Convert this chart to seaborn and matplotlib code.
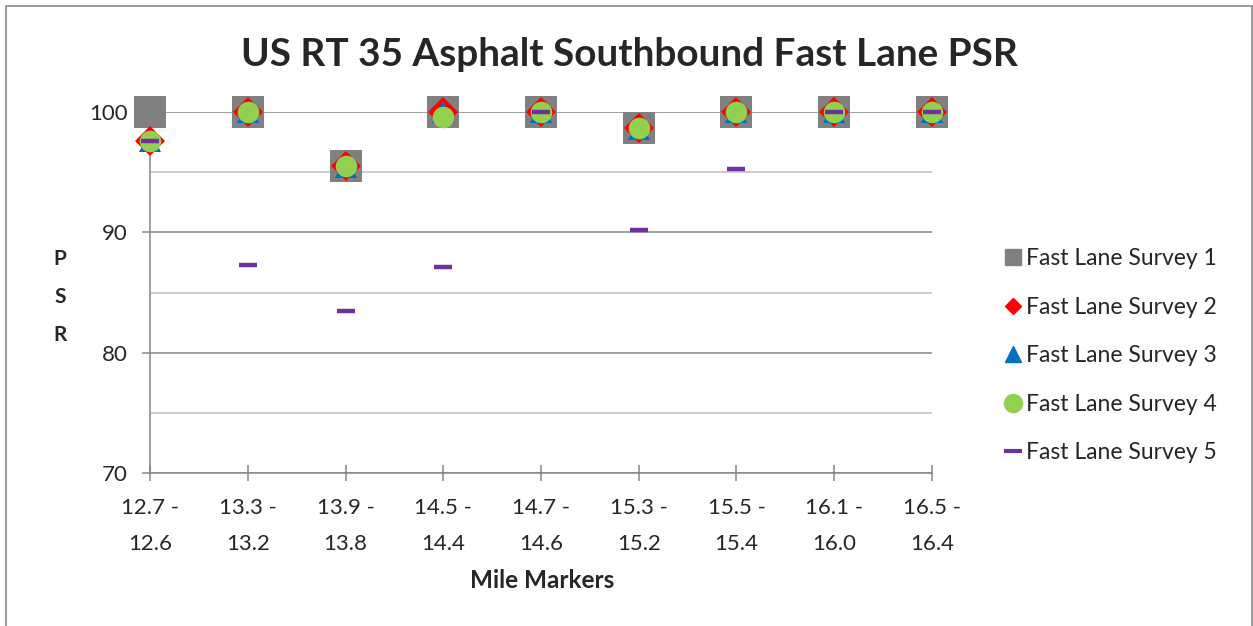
import numpy as np
import matplotlib
matplotlib.use('Agg')
import matplotlib.pyplot as plt
from matplotlib.lines import Line2D
from matplotlib.patches import Rectangle
import seaborn as sns

# Chart data
mile_markers = ['12.7 -\n12.6', '13.3 -\n13.2', '13.9 -\n13.8', '14.5 -\n14.4', '14.7 -\n14.6',
                '15.3 -\n15.2', '15.5 -\n15.4', '16.1 -\n16.0', '16.5 -\n16.4']
survey1 = [100, 100, 95.5, 100, 100, 98.7, 100, 100, 100]
survey2 = [97.6, 100, 95.5, 100, 100, 98.7, 100, 100, 100]
survey3 = [97.6, 100, 95.4, 100, 100, 98.6, 100, 100, 100]
survey4 = [97.6, 100, 95.5, 99.6, 100, 98.7, 100, 100, 100]
survey5 = [97.6, 87.3, 83.5, 87.1, 100, 90.2, 95.3, 100, 100]
series_names = ['Fast Lane Survey 1', 'Fast Lane Survey 2', 'Fast Lane Survey 3',
                'Fast Lane Survey 4', 'Fast Lane Survey 5']
y_ticks = [70, 80, 90, 100]

sns.set_style('white')
plt.rcParams['font.family'] = ['Lato', 'DejaVu Sans']

fig = plt.figure(figsize=(12.53, 6.26), dpi=100)
ax = fig.add_axes([150 / 1253, 1 - 473 / 626, (932 - 150) / 1253, (473 - 112) / 626])

x = np.arange(len(mile_markers))
# (values, marker, size, colour, edge width)
styles = [
    (survey1, 's', 23, '#808080', 0),
    (survey2, 'D', 14.8, '#FF0000', 0),
    (survey3, '^', 16.5, '#0070C0', 0),
    (survey4, 'o', 15.5, '#92D050', 0),
    (survey5, '_', 13, '#7030A0', 3.2),
]
for i, (vals, mk, ms, col, mew) in enumerate(styles):
    sns.lineplot(x=x, y=vals, ax=ax, marker=mk, markersize=ms, linestyle='',
                 color=col, markeredgecolor=col, markeredgewidth=mew,
                 clip_on=False, zorder=5 + i)

ax.set_xlim(0, 8)
ax.set_ylim(70, 100)
ax.set_xticks(x)
ax.set_xticklabels(mile_markers, fontsize=16, linespacing=2.0)
ax.set_yticks(y_ticks)
ax.set_yticks([75, 85, 95], minor=True)
ax.tick_params(axis='y', which='major', direction='out', length=6, width=1.1,
               color='#868686', labelsize=16, pad=10, left=True)
ax.tick_params(axis='y', which='minor', length=0)
ax.tick_params(axis='x', direction='inout', length=11.5, width=1.1,
               color='#868686', pad=12, bottom=True)
ax.yaxis.grid(True, which='major', color='#868686', linewidth=1.1)
ax.yaxis.grid(True, which='minor', color='#BFBFBF', linewidth=1.1)
ax.set_axisbelow(True)
for s in ['top', 'right']:
    ax.spines[s].set_visible(False)
for s in ['left', 'bottom']:
    ax.spines[s].set_color('#868686')
    ax.spines[s].set_linewidth(1.1)
ax.set_xlabel('')
ax.set_ylabel('')

fig.text(629 / 1253, 1 - 55 / 626, 'US RT 35 Asphalt Southbound Fast Lane PSR',
         ha='center', va='center', fontsize=27.9, fontweight='bold')
fig.text(542 / 1253, 1 - 580 / 626, 'Mile Markers', ha='center', va='center',
         fontsize=17.5, fontweight='bold')
fig.text(60 / 1253, 1 - 297 / 626, 'P\nS\nR', ha='center', va='center',
         fontsize=15, fontweight='bold', linespacing=2.1)

handles = [
    Line2D([], [], marker='s', markersize=11.3, linestyle='', color='#808080'),
    Line2D([], [], marker='D', markersize=8, linestyle='', color='#FF0000'),
    Line2D([], [], marker='^', markersize=11.5, linestyle='', color='#0070C0'),
    Line2D([], [], marker='o', markersize=13, linestyle='', color='#92D050'),
    Line2D([], [], marker='_', markersize=12.5, linestyle='', color='#7030A0',
           markeredgewidth=3),
]
fig.legend(handles, series_names, loc='center left', bbox_to_anchor=(994 / 1253, 1 - 356 / 626),
           frameon=False, fontsize=16.5, handlelength=0.9, handletextpad=0.1,
           labelspacing=1.2, borderaxespad=0)

fig.add_artist(Rectangle((6 / 1253, -0.05), (1252 - 6) / 1253, 1.05 - 6 / 626,
                         transform=fig.transFigure, fill=False, edgecolor='#898989',
                         linewidth=1.2))

fig.savefig('out.png', dpi=100)
